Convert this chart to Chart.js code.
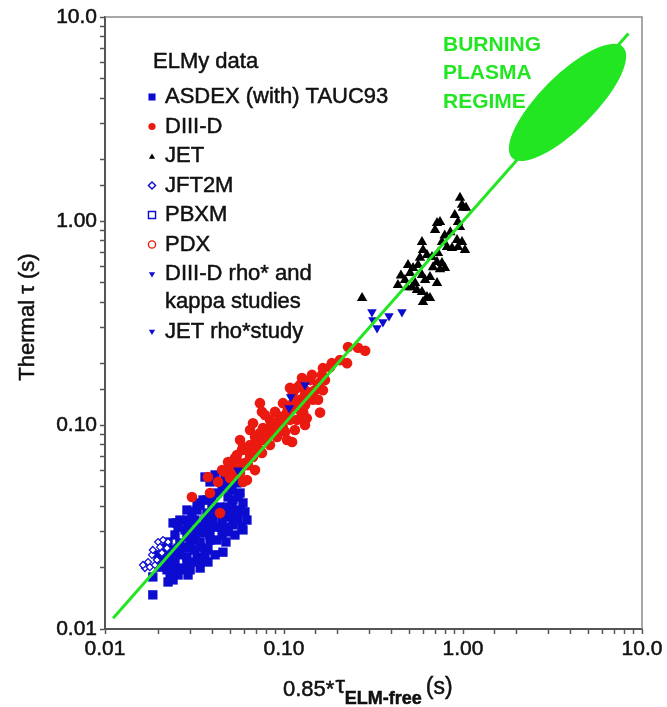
<!DOCTYPE html>
<html>
<head>
<meta charset="utf-8">
<script src="https://cdn.jsdelivr.net/npm/chart.js@4.4.1/dist/chart.umd.min.js"></script>
<style>
  html, body { margin: 0; padding: 0; background: #fff; }
  canvas { display: block; }
</style>
</head>
<body>
<canvas id="tau" width="667" height="707"></canvas>
<script>
// confinement time data, [0.85*tau_ELM-free, thermal tau] in seconds
const asdexPoints = [
  [0.0185,0.0147],[0.0240,0.0174],[0.0231,0.0180],[0.0456,0.0238],[0.0590,0.0306],[0.0590,0.0415],
  [0.0546,0.0370],[0.0481,0.0306],[0.0422,0.0273],[0.0371,0.0244],[0.0327,0.0225],[0.0287,0.0211],
  [0.0262,0.0195],[0.0237,0.0195],[0.0252,0.0331],[0.0287,0.0342],[0.0327,0.0383],[0.0371,0.0429],
  [0.0422,0.0464],[0.0499,0.0497],[0.0519,0.0429],[0.0456,0.0354],[0.0401,0.0316],[0.0353,0.0296],
  [0.0310,0.0273],[0.0273,0.0252],[0.0252,0.0236],[0.0231,0.0218],[0.0222,0.0206],[0.0287,0.0225],
  [0.0340,0.0252],[0.0386,0.0273],[0.0439,0.0316],[0.0499,0.0354],[0.0568,0.0464],[0.0546,0.0520],
  [0.0439,0.0396],[0.0371,0.0370],[0.0327,0.0316],[0.0287,0.0283],[0.0262,0.0264],[0.0240,0.0244],
  [0.0225,0.0170],[0.0487,0.0299],[0.0362,0.0556],[0.0386,0.0526],[0.0456,0.0508],[0.0287,0.0383],
  [0.0327,0.0415],[0.0481,0.0396],[0.0553,0.0444],[0.0568,0.0383],[0.0240,0.0331],[0.0353,0.0429],
  [0.0412,0.0569],[0.0468,0.0550],[0.0203,0.0201],[0.0211,0.0218],[0.0299,0.0195],[0.0340,0.0218],
  [0.0401,0.0342],[0.0519,0.0324],[0.0621,0.0342],[0.0412,0.0231],[0.0318,0.0244],[0.0280,0.0306],
  [0.0185,0.0180],[0.0222,0.0195],
  [0.0451,0.0480],[0.0512,0.0480],[0.0396,0.0444],[0.0487,0.0444],[0.0340,0.0405],[0.0396,0.0405],
  [0.0512,0.0405],[0.0306,0.0375],[0.0412,0.0375],[0.0499,0.0375],[0.0605,0.0375],[0.0262,0.0342],
  [0.0318,0.0342],[0.0362,0.0342],[0.0451,0.0342],[0.0553,0.0342],[0.0256,0.0316],[0.0291,0.0316],
  [0.0362,0.0316],[0.0487,0.0316],[0.0582,0.0316],[0.0246,0.0289],[0.0318,0.0289],[0.0386,0.0289],
  [0.0451,0.0289],[0.0532,0.0289],[0.0225,0.0267],[0.0299,0.0267],[0.0340,0.0267],[0.0474,0.0267],
  [0.0211,0.0249],[0.0256,0.0249],[0.0291,0.0249],[0.0376,0.0249],[0.0198,0.0231],[0.0225,0.0231],
  [0.0262,0.0231],[0.0362,0.0231],[0.0246,0.0213],[0.0318,0.0213],[0.0376,0.0213],[0.0225,0.0199],
  [0.0269,0.0199],[0.0340,0.0199],[0.0256,0.0184],[0.0291,0.0184]
];
const diiidPoints = [
  [0.228,0.241],[0.259,0.239],[0.284,0.231],[0.225,0.201],[0.185,0.201],[0.181,0.192],[0.165,0.190],
  [0.163,0.176],[0.126,0.170],[0.140,0.166],[0.159,0.162],[0.118,0.152],[0.108,0.152],[0.165,0.148],
  [0.112,0.143],[0.140,0.137],[0.145,0.133],[0.155,0.133],[0.159,0.115],[0.0734,0.128],[0.0753,0.116],
  [0.0987,0.128],[0.115,0.123],[0.128,0.115],[0.134,0.108],[0.118,0.106],[0.095,0.110],[0.0835,0.106],
  [0.0671,0.102],[0.0763,0.0966],[0.0646,0.0945],[0.0868,0.0924],[0.0987,0.0966],[0.111,0.0826],
  [0.0568,0.0844],[0.059,0.078],[0.0706,0.0816],[0.0803,0.0863],[0.0546,0.0713],[0.0646,0.0697],
  [0.0734,0.0754],[0.0519,0.0651],[0.0582,0.0622],[0.0621,0.0537],[0.131,0.100],[0.126,0.110],
  [0.104,0.115],[0.0914,0.102],[0.0914,0.0873],[0.0734,0.0913],[0.0835,0.0977],[0.0621,0.0754],
  [0.0753,0.0729],[0.0605,0.0651],[0.0499,0.0615],[0.0568,0.0582],[0.0512,0.0556],[0.0376,0.0556],
  [0.0428,0.0526],[0.0306,0.0444],[0.0439,0.037],[0.104,0.0844],[0.0386,0.0464],[0.059,0.0526],
  [0.0499,0.055],[0.0671,0.0697],[0.1014,0.0924],[0.1228,0.133],[0.149,0.148],[0.131,0.140],
  [0.108,0.125],[0.0891,0.116],[0.0783,0.112],[0.0689,0.0873],[0.0532,0.0601],[0.0468,0.0589],
  [0.1014,0.106],[0.115,0.0945],[0.1228,0.157],[0.2055,0.208],
  [0.0451,0.0601],[0.0487,0.0658],[0.0532,0.0689],[0.0582,0.0754],[0.0646,0.0798],[0.0689,0.0771],
  [0.0753,0.0844],[0.0814,0.0924],[0.0891,0.100],[0.0975,0.108],[0.1052,0.1185],[0.1151,0.1297],
  [0.1228,0.1185],[0.1310,0.125],[0.1433,0.1452],[0.1549,0.157],[0.1694,0.166],[0.1433,0.176],
  [0.1310,0.148],[0.1081,0.106],[0.0925,0.0945],[0.0783,0.0893],[0.0629,0.0636],[0.0689,0.0601],
  [0.0553,0.0658],[0.0835,0.0798]
];
const jetPoints = [
  [0.962,1.30],[0.987,1.20],[1.00,1.16],[0.716,0.978],[0.744,0.989],[0.698,0.903],[0.938,0.990],
  [0.962,0.935],[0.590,0.789],[0.598,0.721],[0.763,0.789],[0.814,0.746],[0.868,0.737],[0.926,0.807],
  [0.987,0.789],[1.026,0.721],[0.938,0.746],[0.629,0.681],[0.671,0.667],[0.725,0.697],[0.716,0.630],
  [0.763,0.623],[0.793,0.588],[0.680,0.593],[0.493,0.608],[0.526,0.588],[0.561,0.608],[0.506,0.556],
  [0.590,0.543],[0.654,0.531],[0.716,0.497],[0.614,0.514],[0.433,0.486],[0.474,0.514],[0.519,0.474],
  [0.553,0.459],[0.590,0.449],[0.629,0.424],[0.598,0.401],[0.654,0.419],[0.487,0.474],[0.540,0.497],
  [0.273,0.419],[1.04,1.16],[0.850,0.880],[0.790,0.850],[0.575,0.660],[0.744,0.580],[0.900,1.07],
  [0.450,0.540]
];
const jft2mPoints = [
  [0.0167,0.0199],[0.0174,0.0213],[0.0183,0.0231],[0.0185,0.0244],[0.0198,0.0267],[0.0211,0.0273],
  [0.0225,0.0267],[0.0195,0.0218],[0.0208,0.0236],[0.0178,0.0201],[0.0190,0.0206],[0.0203,0.0252],
  [0.0222,0.0249],[0.0163,0.0206]
];
const pbxmPoints = [];
const pdxPoints = [];
const diiidRhoPoints = [[0.131,0.157],[0.109,0.137],[0.107,0.121],[0.0553,0.060],[0.0567,0.0444]];
const jetRhoPoints = [[0.310,0.358],[0.314,0.327],[0.331,0.299],[0.357,0.320],[0.386,0.342],[0.456,0.358]];

// tau_thermal = tau_ELM-free reference line and the projected burning plasma region
const fitLineX = [0.0111, 8.4];
const fitLineY = [0.0113, 8.3];
const burningTipX = [1.88, 7.83];
const burningTipY = [2.04, 7.13];

const tickValues = [0.01, 0.1, 1, 10];
const tickLabels = ['0.01', '0.10', '1.00', '10.0'];

const BLUE = '#0c0cd0';
const RED = '#ea1a10';
const GREEN = '#22e622';
const INK = '#111';
const FONT = '"Liberation Sans", Arial, sans-serif';

const toXY = pts => pts.map(p => ({ x: p[0], y: p[1] }));

function decadeLabel(value) {
  const i = tickValues.findIndex(t => Math.abs(Math.log10(t) - Math.log10(value)) < 1e-6);
  return i >= 0 ? tickLabels[i] : '';
}

// filled text with a hairline stroke so it reads a little heavier
function inkText(ctx, text, x, y, color) {
  ctx.fillStyle = color;
  ctx.strokeStyle = color;
  ctx.lineWidth = 0.5;
  ctx.fillText(text, x, y);
  ctx.strokeText(text, x, y);
}

const series = [
  { label: 'ASDEX (with) TAUC93', data: asdexPoints, style: 'rect', radius: 6.6, color: BLUE, open: false, order: 5 },
  { label: 'DIII-D', data: diiidPoints, style: 'circle', radius: 5.3, color: RED, open: false, order: 3 },
  { label: 'JET', data: jetPoints, style: 'triangle', radius: 6, color: '#000', open: false, order: 3 },
  { label: 'JFT2M', data: jft2mPoints, style: 'rectRot', radius: 3.5, color: BLUE, open: true, order: 4 },
  { label: 'PBXM', data: pbxmPoints, style: 'rect', radius: 5, color: BLUE, open: true, order: 4 },
  { label: 'PDX', data: pdxPoints, style: 'circle', radius: 4, color: RED, open: true, order: 4 },
  { label: 'DIII-D rho* and\nkappa studies', data: diiidRhoPoints, style: 'triangle', rotation: 180, radius: 5.5, color: BLUE, open: false, order: 2 },
  { label: 'JET rho*study', data: jetRhoPoints, style: 'triangle', rotation: 180, radius: 5.5, color: BLUE, open: false, order: 2 }
];

const datasets = series.map(s => ({
  type: 'scatter',
  label: s.label,
  data: toXY(s.data),
  pointStyle: s.style,
  pointRotation: s.rotation || 0,
  pointRadius: s.radius,
  backgroundColor: s.open ? '#fff' : s.color,
  borderColor: s.color,
  borderWidth: s.open ? 1.2 : 0,
  order: s.order
}));

datasets.push({
  type: 'line',
  label: 'fit',
  data: fitLineX.map((x, i) => ({ x, y: fitLineY[i] })),
  borderColor: GREEN,
  borderWidth: 3,
  pointRadius: 0,
  order: 0
});

const burningRegion = {
  id: 'burningRegion',
  afterDatasetsDraw(chart) {
    const { ctx, scales: { x, y } } = chart;
    const x1 = x.getPixelForValue(burningTipX[0]), y1 = y.getPixelForValue(burningTipY[0]);
    const x2 = x.getPixelForValue(burningTipX[1]), y2 = y.getPixelForValue(burningTipY[1]);
    const cx = (x1 + x2) / 2, cy = (y1 + y2) / 2;
    const rx = Math.hypot(x2 - x1, y2 - y1) / 2;
    ctx.save();
    ctx.fillStyle = GREEN;
    ctx.beginPath();
    ctx.ellipse(cx, cy, rx, 27, Math.atan2(y2 - y1, x2 - x1), 0, Math.PI * 2);
    ctx.fill();
    ctx.font = 'bold 21px ' + FONT;
    ctx.textBaseline = 'middle';
    ['BURNING', 'PLASMA', 'REGIME'].forEach((t, i) => ctx.fillText(t, 443, 45 + i * 28.5));
    ctx.restore();
  }
};

// frame, legend block and axis titles
const decorations = {
  id: 'decorations',
  afterDraw(chart) {
    const { ctx, chartArea: a } = chart;
    ctx.save();
    ctx.strokeStyle = '#8a8a8a';
    ctx.lineWidth = 1.5;
    ctx.beginPath();
    ctx.moveTo(a.left, a.top);
    ctx.lineTo(a.right, a.top);
    ctx.lineTo(a.right, a.bottom);
    ctx.stroke();

    ctx.textBaseline = 'middle';
    ctx.font = '22px ' + FONT;
    inkText(ctx, 'ELMy data', 153, 62, INK);

    let yPos = 97;
    series.forEach(s => {
      ctx.fillStyle = s.open ? '#fff' : s.color;
      ctx.strokeStyle = s.color;
      ctx.lineWidth = 1.4;
      Chart.helpers.drawPoint(ctx, {
        pointStyle: s.style,
        rotation: s.rotation || 0,
        radius: s.style === 'rect' ? 5 : 3.6,
        borderWidth: s.open ? 1.4 : 0
      }, 152, yPos + (s.style === 'triangle' && !s.rotation ? 1 : 0));
      s.label.split('\n').forEach((line, i) => {
        inkText(ctx, line, 165, yPos + i * 28, INK);
      });
      yPos += 29.5 + (s.label.includes('\n') ? 28 : 0);
    });

    // y title
    ctx.save();
    ctx.translate(28, 317);
    ctx.rotate(-Math.PI / 2);
    ctx.textAlign = 'center';
    ctx.font = '22px ' + FONT;
    inkText(ctx, 'Thermal \u03c4 (s)', 0, 0, INK);
    ctx.restore();

    // x title with subscript
    ctx.textBaseline = 'alphabetic';
    let px = 283;
    const base = 696;
    ctx.font = '22px ' + FONT;
    inkText(ctx, '0.85*', px, base, INK);
    px += ctx.measureText('0.85*').width + 1;
    ctx.font = '24px ' + FONT;
    inkText(ctx, '\u03c4', px, base - 3, INK);
    px += ctx.measureText('\u03c4').width;
    ctx.font = 'bold 18px ' + FONT;
    inkText(ctx, 'ELM-free', px, base + 8, INK);
    px += ctx.measureText('ELM-free').width + 4;
    ctx.font = '23px ' + FONT;
    inkText(ctx, '(s)', px, base - 2, INK);
    ctx.restore();
  }
};

function logAxis(extra) {
  return Object.assign({
    type: 'logarithmic',
    min: 0.01,
    max: 10,
    border: { color: '#555', width: 2 },
    grid: { drawOnChartArea: false, tickLength: 5, tickColor: '#555', tickWidth: 1.5 },
    ticks: {
      autoSkip: false,
      maxRotation: 0,
      color: INK,
      textStrokeColor: INK,
      textStrokeWidth: 0.5,
      font: { family: FONT, size: 21 },
      callback: decadeLabel
    }
  }, extra);
}

new Chart(document.getElementById('tau'), {
  data: { datasets },
  options: {
    responsive: false,
    animation: false,
    events: [],
    layout: { padding: { top: 17, right: 25, left: 0, bottom: 0 } },
    plugins: { legend: { display: false }, tooltip: { enabled: false } },
    scales: {
      x: logAxis({ position: 'bottom', afterFit: s => { s.height = 78; } }),
      y: logAxis({ position: 'left', afterFit: s => { s.width = 105; } })
    }
  },
  plugins: [burningRegion, decorations]
});
</script>
</body>
</html>
